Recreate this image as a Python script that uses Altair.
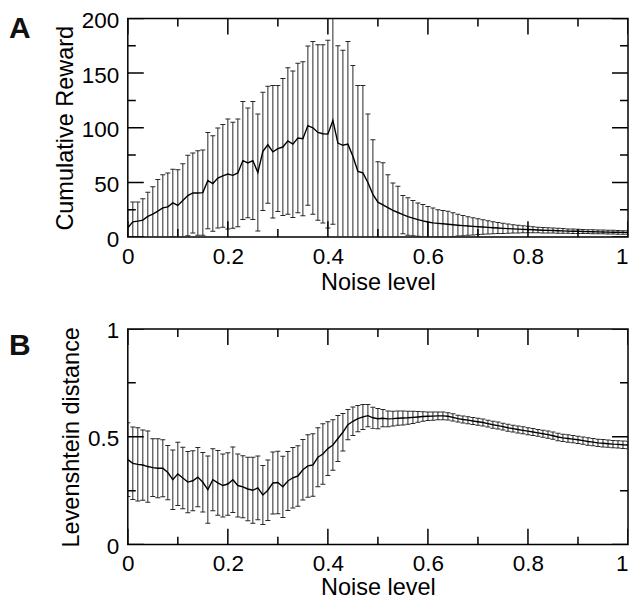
import altair as alt
import pandas as pd

noise = [round(i * 0.01, 2) for i in range(101)]

reward_mean = [8.5, 14, 14.6, 15.5, 19, 21, 23.7, 26.7, 27.7, 31.3,
               29, 33.4, 38, 40.4, 40.4, 40.7, 51.7, 49, 54, 56,
               57.7, 56.5, 58.7, 70, 67.8, 70, 59, 78.4, 84.5, 78,
               81, 82.4, 88, 85, 90.6, 90, 102, 100, 95.7, 94.5,
               94.2, 106.7, 86, 84, 85, 74, 60, 58.7, 50, 39,
               32, 29.5, 27, 24.5, 22.5, 20.5, 18.8, 17.3, 16, 14.8,
               13.8, 13, 12.6, 12.2, 11.7, 11.3, 10.9, 10.5, 10.1, 9.8,
               9.5, 9.2, 8.9, 8.6, 8.3, 8.0, 7.8, 7.5, 7.3, 7.1,
               6.9, 6.7, 6.5, 6.3, 6.2, 6.0, 5.8, 5.7, 5.5, 5.4,
               5.3, 5.1, 5.0, 4.9, 4.8, 4.7, 4.6, 4.5, 4.4, 4.3, 4.2]
reward_sd = [16.5, 18, 17.4, 19.5, 22, 25, 29, 30.3, 31, 30.7,
             32.7, 33.6, 36.8, 36.6, 38.6, 38.9, 44, 43.7, 45.7, 47,
             50.3, 48.5, 49.3, 54, 50.2, 54, 53.5, 54, 53.5, 60.6,
             57.6, 62.6, 67, 67, 68.4, 70.5, 72.8, 79, 80.3, 81.5,
             85.8, 95, 89, 87, 94, 83, 78.6, 80, 62.5, 50,
             37, 38.5, 30, 25, 24, 17.5, 17.2, 16.1, 15.3, 15,
             14.2, 13.7, 12.4, 12.2, 12, 11, 10, 9.2, 8.5, 7.8,
             7.2, 6.6, 6.0, 5.5, 5.0, 4.6, 4.2, 3.8, 3.5, 3.2,
             3.0, 2.8, 2.6, 2.5, 2.4, 2.3, 2.2, 2.1, 2.0, 2.0,
             1.9, 1.9, 1.8, 1.8, 1.8, 1.7, 1.7, 1.7, 1.7, 1.6, 1.6]

lev_mean = [0.394, 0.377, 0.372, 0.369, 0.362, 0.357, 0.354, 0.354, 0.334, 0.301,
            0.328, 0.309, 0.29, 0.296, 0.313, 0.289, 0.255, 0.301, 0.286, 0.274,
            0.281, 0.301, 0.274, 0.268, 0.258, 0.252, 0.263, 0.23, 0.252, 0.286,
            0.288, 0.268, 0.295, 0.31, 0.318, 0.347, 0.365, 0.369, 0.405, 0.42,
            0.445, 0.462, 0.492, 0.521, 0.556, 0.572, 0.584, 0.592, 0.598, 0.588,
            0.584, 0.586, 0.583, 0.584, 0.586, 0.587, 0.588, 0.59, 0.592, 0.594,
            0.595, 0.596, 0.597, 0.597, 0.595, 0.59, 0.584, 0.58, 0.577, 0.573,
            0.57, 0.566, 0.561, 0.556, 0.552, 0.547, 0.542, 0.538, 0.534, 0.53,
            0.526, 0.522, 0.518, 0.514, 0.51, 0.505, 0.499, 0.495, 0.492, 0.489,
            0.486, 0.482, 0.478, 0.475, 0.472, 0.47, 0.468, 0.466, 0.465, 0.463, 0.462]
lev_sd = [0.171, 0.168, 0.17, 0.163, 0.165, 0.134, 0.137, 0.132, 0.126, 0.138,
          0.147, 0.143, 0.142, 0.139, 0.137, 0.138, 0.156, 0.144, 0.15, 0.146,
          0.145, 0.152, 0.146, 0.144, 0.147, 0.153, 0.148, 0.137, 0.14, 0.144,
          0.145, 0.142, 0.137, 0.14, 0.14, 0.14, 0.145, 0.145, 0.137, 0.14,
          0.125, 0.117, 0.107, 0.087, 0.07, 0.066, 0.061, 0.058, 0.052, 0.049,
          0.047, 0.04, 0.036, 0.034, 0.033, 0.032, 0.03, 0.028, 0.025, 0.022,
          0.02, 0.019, 0.018, 0.018, 0.017, 0.017, 0.016, 0.016, 0.016, 0.016,
          0.016, 0.016, 0.016, 0.016, 0.016, 0.016, 0.016, 0.016, 0.016, 0.016,
          0.016, 0.016, 0.016, 0.016, 0.017, 0.017, 0.017, 0.017, 0.017, 0.017,
          0.017, 0.017, 0.017, 0.017, 0.017, 0.017, 0.017, 0.017, 0.017, 0.017, 0.017]

x_ticks = [round(i * 0.1, 1) for i in range(11)]
x_major = [0, 0.2, 0.4, 0.6, 0.8, 1]
reward_ticks = [0, 25, 50, 75, 100, 125, 150, 175, 200]
reward_major = [0, 50, 100, 150, 200]
lev_ticks = [0, 0.25, 0.5, 0.75, 1]
lev_major = [0, 0.5, 1]

W = 501
MAJOR = 32   # centred tick, half clipped -> 16 px inside
MINOR = 16
BAR = "#262626"


def panel(mean, sd, ydom, yticks, ymajor, ytitle, letter, h, letter_y, lpad, tpad):
    df = pd.DataFrame({"x": noise, "m": mean, "sd": sd})
    df["lo"] = df["m"] - df["sd"]
    df["hi"] = df["m"] + df["sd"]

    xs = alt.Scale(domain=[0, 1], nice=False, zero=False)
    ys = alt.Scale(domain=ydom, nice=False, zero=False)
    xaxis = alt.Axis(
        values=x_major, format="~r", title="Noise level", ticks=False,
        tickSize=0, domain=False, grid=False, labelPadding=lpad, titlePadding=tpad,
        labelFlush=False, labelOverlap=False,
        labelAlign={"condition": {"test": "datum.value >= 1", "value": "right"}, "value": "center"},
    )
    yaxis = alt.Axis(values=ymajor, format="~r", title=ytitle, ticks=False,
                     tickSize=0, domain=False, grid=False, labelPadding=9, titlePadding=4,
                     labelFlush=False, labelOverlap=False, labelOffset=2)

    base = alt.Chart(df)
    X = alt.X("x:Q", scale=xs, axis=xaxis)
    bars = base.mark_rule(clip=True, color=BAR, strokeWidth=1).encode(
        x=X, y=alt.Y("lo:Q", scale=ys, axis=yaxis), y2="hi:Q")
    cap_hi = base.mark_tick(clip=True, orient="horizontal", size=5, thickness=1,
                            color=BAR, opacity=1).encode(
        x=X, y=alt.Y("hi:Q", scale=ys, axis=yaxis))
    cap_lo = base.mark_tick(clip=True, orient="horizontal", size=5, thickness=1,
                            color=BAR, opacity=1).encode(
        x=X, y=alt.Y("lo:Q", scale=ys, axis=yaxis))
    line = base.mark_line(clip=True, color="black", strokeWidth=1.4).encode(
        x=X, y=alt.Y("m:Q", scale=ys, axis=yaxis))

    # inward ticks on all four sides
    rows = []
    for v in x_ticks:
        ln = MAJOR if any(abs(v - m) < 1e-9 for m in x_major) else MINOR
        rows.append({"x": v, "yv": ydom[0], "len": ln})
        rows.append({"x": v, "yv": ydom[1], "len": ln})
    tx = pd.DataFrame(rows)
    xt = alt.Chart(tx).mark_tick(clip=True, orient="vertical", thickness=1.5,
                                 color="black", opacity=1).encode(
        x=X, y=alt.Y("yv:Q", scale=ys, axis=yaxis),
        size=alt.Size("len:Q", scale=None, legend=None))
    rows = []
    for v in yticks:
        ln = MAJOR if v in ymajor else MINOR
        rows.append({"x": 0, "yv": v, "len": ln})
        rows.append({"x": 1, "yv": v, "len": ln})
    ty = pd.DataFrame(rows)
    yt = alt.Chart(ty).mark_tick(clip=True, orient="horizontal", thickness=1.5,
                                 color="black", opacity=1).encode(
        x=X, y=alt.Y("yv:Q", scale=ys, axis=yaxis),
        size=alt.Size("len:Q", scale=None, legend=None))

    lab = alt.Chart(pd.DataFrame({"t": [letter]})).mark_text(
        align="left", baseline="alphabetic", fontSize=30, fontWeight="bold",
        font="Liberation Sans", color="#111111").encode(
        text="t:N", x=alt.value(-119), y=alt.value(letter_y))

    return alt.layer(bars, cap_hi, cap_lo, line, xt, yt, lab).properties(width=W, height=h)


pa = panel(reward_mean, reward_sd, [0, 200], reward_ticks, reward_major,
           "Cumulative Reward", "A", 219, 20, 8, 3)
pb = panel(lev_mean, lev_sd, [0, 1], lev_ticks, lev_major,
           "Levenshtein distance", "B", 216, 26, 8, 0)

chart = alt.vconcat(pa, pb, spacing=24).properties(padding=0).configure_view(
    stroke="black", strokeWidth=1.5
).configure_axis(
    labelFont="Liberation Sans", titleFont="Liberation Sans",
    labelFontSize=22.5, titleFontSize=23.5, labelColor="black", titleColor="black",
    titleFontWeight="normal"
)

chart.save("out.html", embed_options={"renderer": "svg", "actions": False})
